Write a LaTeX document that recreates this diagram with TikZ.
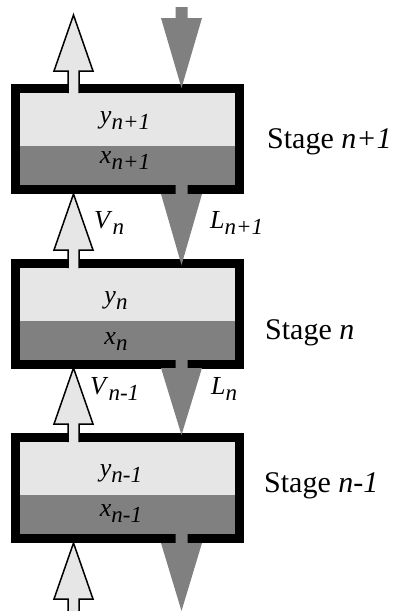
\documentclass[tikz,border=0pt]{standalone}
\usepackage{fontspec}
\setmainfont{Liberation Serif}
\definecolor{lightfill}{HTML}{E6E6E6}
\definecolor{darkfill}{HTML}{808080}
\newcommand{\mysub}[2]{\textit{#1}\raisebox{-6pt}{\fontsize{23pt}{25pt}\selectfont\textit{#2}}}
\begin{document}
\begin{tikzpicture}[x=1pt,y=-1pt,
  boxtext/.style={font=\fontsize{26pt}{28pt}\selectfont, anchor=base, inner sep=0pt},
  flowlabel/.style={font=\fontsize{26pt}{28pt}\selectfont, anchor=base west, inner sep=0pt},
  stagelabel/.style={font=\fontsize{30pt}{33pt}\selectfont, anchor=base west, inner sep=0pt},
  uparrow/.style={fill=lightfill, draw=black, line width=1.5pt, line join=miter},
  downarrow/.style={fill=darkfill}]
\useasboundingbox (0,0) rectangle (400,611);

% stage boxes
\foreach \T in {84,259,433}{
  \fill[black] (11,\T) rectangle (244,\T+110);
  \fill[lightfill] (20,\T+9) rectangle (235,\T+62);
  \fill[darkfill] (20,\T+62) rectangle (235,\T+101);
}

% vapour (up) arrows: tip y / shaft bottom y
\foreach \tip/\bot in {15/93, 194/268, 368/442, 543/612}{
  \filldraw[uparrow] (68,\bot) -- (68,\tip+56) -- (54,\tip+56) -- (73.5,\tip)
     -- (93,\tip+56) -- (79,\tip+56) -- (79,\bot);
}

% liquid (down) arrows: shaft top / head base / tip
\foreach \top/\base/\tip in {7/18/88, 185/194/265, 359/368/435, 533/543/611}{
  \fill[downarrow] (175.5,\top) -- (187.5,\top) -- (187.5,\base) -- (202,\base)
     -- (181.5,\tip) -- (161,\base) -- (175.5,\base) -- cycle;
}

% box contents
\node[boxtext] (y1) at (125,123) {\mysub{y}{n+1}};
\node[boxtext] (x1) at (125,163) {\mysub{x}{n+1}};
\node[boxtext] (y2) at (116,303) {\mysub{y}{n}};
\node[boxtext] (x2) at (116,344) {\mysub{x}{n}};
\node[boxtext] (y3) at (121,476) {\mysub{y}{n-1}};
\node[boxtext] (x3) at (121,516) {\mysub{x}{n-1}};

% flow labels
\node[flowlabel] (vn) at (94,228) {\mysub{V}{n}};
\node[flowlabel] (ln1) at (210,228) {\mysub{L}{n+1}};
\node[flowlabel] (vn1) at (90,394) {\mysub{V}{n-1}};
\node[flowlabel] (ln) at (211,394) {\mysub{L}{n}};

% stage labels
\node[stagelabel] (s1) at (267,148) {Stage \textit{n+1}};
\node[stagelabel] (s2) at (265,339) {Stage \textit{n}};
\node[stagelabel] (s3) at (264,492) {Stage \textit{n-1}};
\end{tikzpicture}
\end{document}
